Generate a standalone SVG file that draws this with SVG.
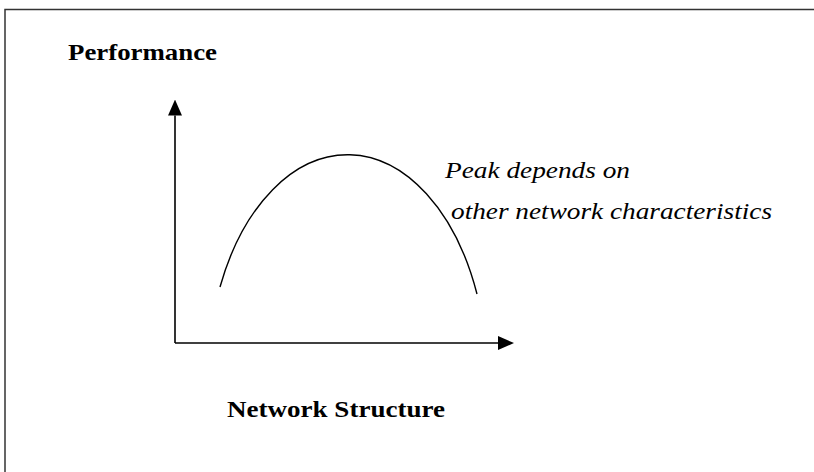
<svg xmlns="http://www.w3.org/2000/svg" width="814" height="472" viewBox="0 0 814 472">
<style>
.bold{font-family:'Liberation Serif','Times New Roman',Times,Tinos,serif;font-weight:700;font-size:23px;fill:#000}
.ital{font-family:'Liberation Serif','Times New Roman',Times,Tinos,serif;font-style:italic;font-size:23px;fill:#000}
.axis{stroke:#000;stroke-width:1.6;fill:none}
.curve{stroke:#000;stroke-width:1.4;fill:none}
</style>
<defs>
<marker id="arrow" markerUnits="userSpaceOnUse" markerWidth="16" markerHeight="16" refX="0" refY="7" orient="auto" viewBox="0 0 16 14">
<path d="M0,0 L16,7 L0,14 z" fill="#000"/>
</marker>
</defs>
<rect width="814" height="472" fill="#fff"/>
<path id="frame" d="M5,480 L5,9.5 L820,9.5" stroke="#333" stroke-width="1.5" fill="none"/>
<g id="connectors">
<line class="axis" x1="175" y1="343" x2="175" y2="115.5" marker-end="url(#arrow)"/>
<line class="axis" x1="175" y1="343" x2="498" y2="343" marker-end="url(#arrow)"/>
</g>
<g id="curve">
<path class="curve" d="M220,287 A140,225 0 0,1 477,294"/>
</g>
<g id="label-performance">
<text class="bold" font-family="Liberation Serif" x="68" y="60" textLength="149" lengthAdjust="spacingAndGlyphs">Performance</text>
</g>
<g id="label-network-structure">
<text class="bold" font-family="Liberation Serif" x="227" y="417" textLength="218" lengthAdjust="spacingAndGlyphs">Network Structure</text>
</g>
<g id="label-peak">
<text class="ital" font-family="Liberation Serif" x="445" y="178" textLength="185" lengthAdjust="spacingAndGlyphs">Peak depends on</text>
<text class="ital" font-family="Liberation Serif" x="451" y="219" textLength="321" lengthAdjust="spacingAndGlyphs">other network characteristics</text>
</g>
</svg>
